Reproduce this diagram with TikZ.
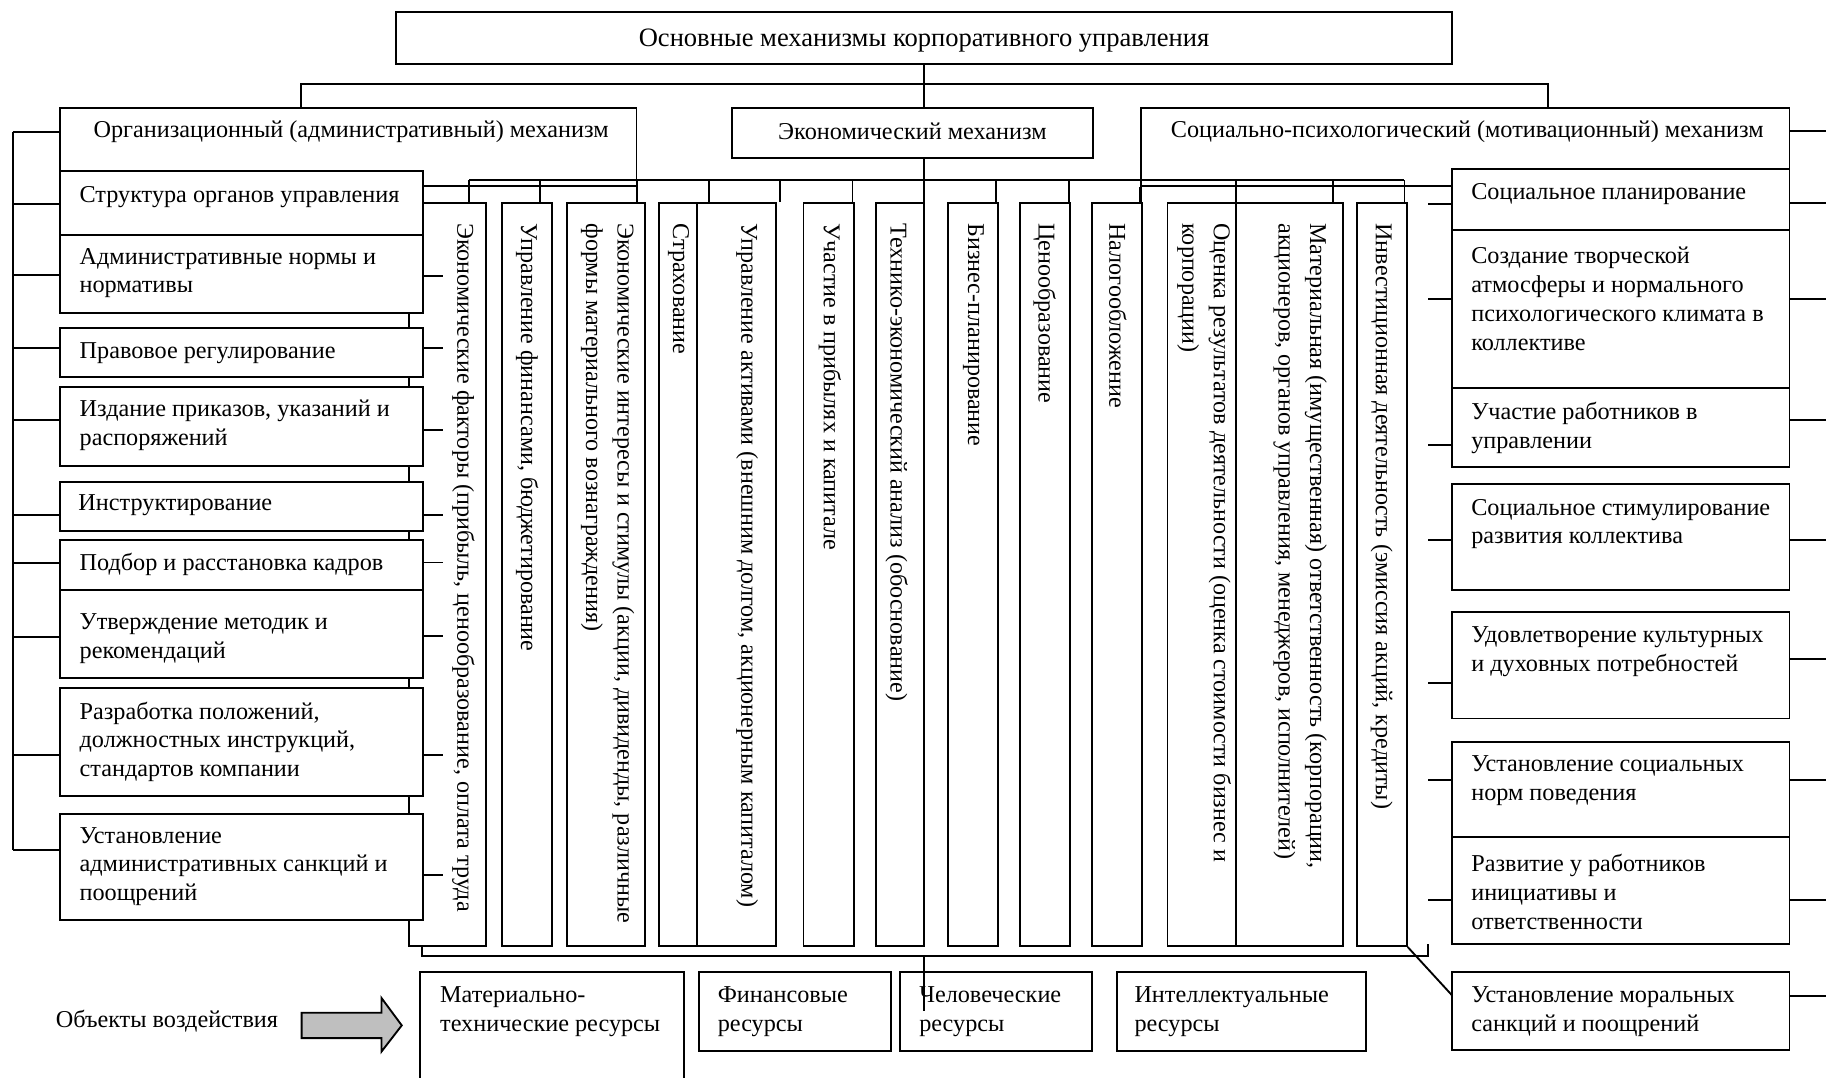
\documentclass[tikz,border=0pt]{standalone}
\usepackage{fontspec}
\setmainfont{Liberation Serif}
\usetikzlibrary{fit}
\tikzset{
  box/.style={draw, line width=0.8pt, fill=white, inner sep=0pt},
  txt/.style={font=\fontsize{10.4}{12.35}\selectfont, inner sep=0pt, align=left},
  bigtxt/.style={font=\fontsize{11.4}{13.5}\selectfont, inner sep=0pt, align=center},
  vtxt/.style={font=\fontsize{10.35}{13.5}\selectfont, inner sep=0pt, align=left, rotate=-90, anchor=west},
  ln/.style={line width=0.8pt},
  arrowfill/.style={draw, line width=0.8pt, fill=black!25}
}
\newcommand\mybox[5]{\node[box, fit={(#2,#3) (#4,#5)}] (#1) {};}
\begin{document}
\begin{tikzpicture}[x=0.5pt,y=-0.5pt]
\useasboundingbox (0,0) rectangle (1568,925);

% top level
\mybox{top}{340}{10}{1247}{55.2}
\node[bigtxt, anchor=center] (ttop) at ([yshift=-1pt]top.center) {Основные механизмы корпоративного управления};

\mybox{org}{51.5}{92.5}{546.6}{160}
\node[txt, anchor=west] (torg) at (80,113) {Организационный (административный) механизм};
\mybox{econ}{628.6}{92.5}{938.5}{135.4}
\node[txt, anchor=center] (tecon) at (783.5,113) {Экономический механизм};
\mybox{soc}{979.8}{92.5}{1536.6}{159.7}
\node[txt, anchor=west] (tsoc) at (1005,113) {Социально-психологический (мотивационный) механизм};

% columns
\mybox{c1}{351}{174.6}{417.5}{812.4}
\mybox{c2}{431}{174.6}{474}{812.4}
\mybox{c3}{486.6}{174.6}{554}{812.4}
\mybox{c4}{566}{174.6}{598.6}{812.4}
\mybox{c5}{598.6}{174.6}{666}{812.4}
\mybox{c6}{690}{174.6}{733.6}{812.4}
\mybox{c7}{752}{174.6}{793.5}{812.4}
\mybox{c8}{814}{174.6}{857}{812.4}
\mybox{c9}{875.5}{174.6}{919}{812.4}
\mybox{c10}{937.8}{174.6}{981}{812.4}
\mybox{c11}{1002.5}{174.6}{1061.5}{812.4}
\mybox{c12}{1061.5}{174.6}{1153}{812.4}
\mybox{c13}{1165}{174.6}{1208}{812.4}

\node[vtxt] (v1) at (398,191.5) {Экономические факторы (прибыль, ценообразование, оплата труда};
\node[vtxt] (v2) at (452.6,191.5) {Управление финансами, бюджетирование};
\node[vtxt] (v3) at (521.8,191.5) {Экономические интересы и стимулы (акции, дивиденды, различные\\формы материального вознаграждения)};
\node[vtxt] (v4) at (582.6,191.5) {Страхование};
\node[vtxt] (v5) at (641.5,191.5) {Управление активами (внешним долгом, акционерным капиталом)};
\node[vtxt] (v6) at (712.7,191.5) {Участие в прибылях и капитале};
\node[vtxt] (v7) at (770,191.5) {Технико-экономический анализ (обоснование)};
\node[vtxt] (v8) at (836,191.5) {Бизнес-планирование};
\node[vtxt] (v9) at (897,191.5) {Ценообразование};
\node[vtxt] (v10) at (960,191.5) {Налогообложение};
\node[vtxt] (v11) at (1034,191.5) {Оценка результатов деятельности (оценка стоимости бизнес и\\корпорации)};
\node[vtxt] (v12) at (1116.5,191.5) {Материальная (имущественная) ответственность (корпорации,\\акционеров, органов управления, менеджеров, исполнителей)};
\node[vtxt] (v13) at (1186.5,191.5) {Инвестиционная деятельность (эмиссия акций, кредиты)};

% left boxes
\mybox{L1}{51.5}{146.8}{363}{202}
\node[txt, anchor=west] (tl1) at (68,169) {Структура органов управления};
\mybox{L2}{51.5}{202}{363}{269}
\node[txt, anchor=west] (tl2) at (68,234.5) {Административные нормы и\\нормативы};
\mybox{L3}{51.5}{282}{363}{324}
\node[txt, anchor=west] (tl3) at (68,303) {Правовое регулирование};
\mybox{L4}{51.5}{332}{363}{400}
\node[txt, anchor=west] (tl4) at (68,365.5) {Издание приказов, указаний и\\распоряжений};
\mybox{L5}{51.5}{413.6}{363}{455.7}
\node[txt, anchor=west] (tl5) at (67,434) {Инструктирование};
\mybox{L6}{51.5}{463.7}{363}{506.6}
\node[txt, anchor=west] (tl6) at (68,485) {Подбор и расстановка кадров};
\mybox{L7}{51.5}{506.6}{363}{582}
\node[txt, anchor=west] (tl7) at (68,548.5) {Утверждение методик и\\рекомендаций};
\mybox{L8}{51.5}{591}{363}{683.5}
\node[txt, anchor=west] (tl8) at (68,637) {Разработка положений,\\должностных инструкций,\\стандартов компании};
\mybox{L9}{51.5}{699}{363}{790}
\node[txt, anchor=west] (tl9) at (68,744) {Установление\\административных санкций и\\поощрений};

% right boxes
\mybox{R1}{1246.6}{145.4}{1536.6}{197.5}
\node[txt, anchor=west] (tr1) at (1263,167) {Социальное планирование};
\mybox{R2}{1246.6}{197.5}{1536.6}{333.5}
\node[txt, anchor=west] (tr2) at (1263,256.5) {Создание творческой\\атмосферы и нормального\\психологического климата в\\коллективе};
\mybox{R3}{1246.6}{333.5}{1536.6}{400.7}
\node[txt, anchor=west] (tr3) at (1263,367.5) {Участие работников в\\управлении};
\mybox{R4}{1246.6}{415.6}{1536.6}{507}
\node[txt, anchor=west] (tr4) at (1263,450) {Социальное стимулирование\\развития коллектива};
\mybox{R5}{1246.6}{525.8}{1536.6}{617}
\node[txt, anchor=west] (tr5) at (1263,559.5) {Удовлетворение культурных\\и духовных потребностей};
\mybox{R6}{1246.6}{637}{1536.6}{719}
\node[txt, anchor=west] (tr6) at (1263,670.5) {Установление социальных\\норм поведения};
\mybox{R7}{1246.6}{719}{1536.6}{810.6}
\node[txt, anchor=west] (tr7) at (1263,765.7) {Развитие у работников\\инициативы и\\ответственности};
\mybox{R8}{1246.6}{834.4}{1536.6}{901.6}
\node[txt, anchor=west] (tr8) at (1263,868.5) {Установление моральных\\санкций и поощрений};

% bottom boxes
\mybox{B1}{361}{834.4}{587.6}{940}
\node[txt, anchor=west] (tb1) at (377.6,868.5) {Материально-\\технические ресурсы};
\mybox{B2}{600}{834.4}{765}{902.5}
\node[txt, anchor=west] (tb2) at (616,868.5) {Финансовые\\ресурсы};
\mybox{B3}{772.8}{834.4}{938}{902.5}
\node[txt, anchor=west] (tb3) at (789,868.5) {Человеческие\\ресурсы};
\mybox{B4}{959}{834.4}{1173}{902.5}
\node[txt, anchor=west] (tb4) at (973.8,868.5) {Интеллектуальные\\ресурсы};

\node[txt, anchor=west] (obj) at (47.5,877) {Объекты воздействия};
\draw[arrowfill] (259,869.6) -- (327.6,869.6) -- (327.6,857) -- (345,880.5) -- (327.6,903) -- (327.6,891.4) -- (259,891.4) -- cycle;

% connectors: top level
\coordinate (tbL) at (258.5,72);
\coordinate (tbR) at (1329,72);
\draw[ln] (tbL |- org.north) -- (tbL) -- (tbR) -- (tbR |- soc.north);
\draw[ln] (top.south) -- (top.south |- econ.north);
\draw[ln] (top.south |- econ.south) -- (top.south |- c7.north);

% bus to columns
\coordinate (busL) at (403,154.6);
\coordinate (busR) at (1206,154.6);
\draw[ln] (busL) -- (busR);
\foreach \x/\c in {403/c1,464/c2,547/c3,609/c5,732/c6,855/c8,917.6/c9,979.8/c10,1061.6/c11,1144.6/c12,1206/c13}{
  \coordinate (k\c) at (\x,154.6);
  \draw[ln] (k\c) -- (k\c |- \c.north);
}
\coordinate (kgap) at (670,154.6);
\draw[ln] (kgap) -- (kgap |- c5.north);
\draw[ln] (soc.west |- soc.south) -- (soc.west |- c10.north);

% left side
\coordinate (lvT) at (10.9,113.6);
\coordinate (lvB) at (10.9,730);
\draw[ln] (lvT) -- (lvB);
\draw[ln] (lvT) -- (lvT -| org.west);
\foreach \y/\b in {175/L1,236/L2,299/L3,360.7/L4,442/L5,483.7/L6,546.7/L7,648/L8,730/L9}{
  \coordinate (ls\b) at (10.9,\y);
  \draw[ln] (ls\b) -- (ls\b -| \b.west);
}
\foreach \y/\b in {237/L2,299/L3,369/L4,442/L5,483/L6,546/L7,648/L8,751/L9}{
  \coordinate (rt\b) at (380,\y);
  \draw[ln] (rt\b -| \b.east) -- (rt\b);
}

% right side
\foreach \y/\b in {175/R1,256.7/R2,382/R3,463.7/R4,586.7/R5,669.8/R6,772.8/R7}{
  \coordinate (rl\b) at (1226.6,\y);
  \draw[ln] (rl\b) -- (rl\b -| \b.west);
}
\foreach \y/\b in {112.5/soc,174/R1,256.7/R2,360.7/R3,463.7/R4,566/R5,669.8/R6,772.8/R7,855/R8}{
  \coordinate (rr\b) at (1568,\y);
  \draw[ln] (rr\b -| \b.east) -- (rr\b);
}
\coordinate (dg) at (1246.6,854.4);
\draw[ln] (c13.south east) -- (dg);

% bottom bracket
\coordinate (bb1) at (362,812.4);
\coordinate (bb2) at (362,821);
\coordinate (bb3) at (1226,821);
\coordinate (bb4) at (1226,810.6);
\draw[ln] (bb1) -- (bb2) -- (bb3) -- (bb4);
\coordinate (bv) at (793.5,821);
\draw[ln] (bv) -- (793.5,868);
\end{tikzpicture}
\end{document}
